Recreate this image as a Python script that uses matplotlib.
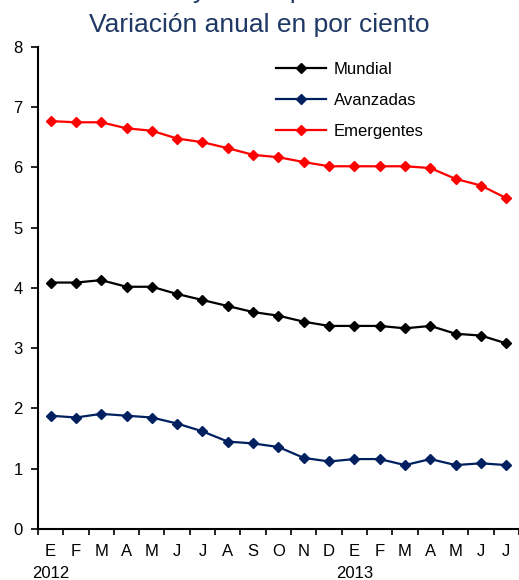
import numpy as np
import matplotlib.pyplot as plt

plt.rcParams['font.family'] = ['Liberation Sans', 'DejaVu Sans']

meses = ['E', 'F', 'M', 'A', 'M', 'J', 'J', 'A', 'S', 'O', 'N', 'D',
         'E', 'F', 'M', 'A', 'M', 'J', 'J']
anios = {0: '2012', 12: '2013'}

mundial = [4.09, 4.09, 4.13, 4.02, 4.02, 3.90, 3.80, 3.70, 3.60, 3.54,
           3.44, 3.37, 3.37, 3.37, 3.33, 3.37, 3.24, 3.21, 3.08]
avanzadas = [1.88, 1.85, 1.91, 1.88, 1.85, 1.75, 1.62, 1.45, 1.42, 1.36,
             1.18, 1.12, 1.16, 1.16, 1.06, 1.16, 1.06, 1.09, 1.06]
emergentes = [6.77, 6.75, 6.75, 6.65, 6.61, 6.48, 6.42, 6.32, 6.21, 6.17,
              6.09, 6.02, 6.02, 6.02, 6.02, 5.99, 5.81, 5.70, 5.49]

series = [('Mundial', mundial, '#000000'),
          ('Avanzadas', avanzadas, '#002060'),
          ('Emergentes', emergentes, '#FF0000')]

fig = plt.figure(figsize=(5.19, 5.80), dpi=100)
ax = fig.add_axes([0.073, 0.088, 0.927, 0.831])

x = np.arange(len(meses))
for nombre, vals, color in series:
    ax.plot(x, vals, color=color, lw=1.6, marker='D', markersize=5.5,
            label=nombre)

ax.set_xlim(-0.5, len(meses) - 0.5)
ax.set_ylim(0, 8)
ax.set_yticks(range(0, 9))
ax.set_xticks(np.arange(-0.5, len(meses)), minor=False)
ax.set_xticklabels([])
ax.set_xticks(x, minor=True)
ax.set_xticklabels(meses, minor=True, fontsize=12)
ax.tick_params(axis='x', which='minor', length=0, pad=11)
ax.tick_params(axis='x', which='major', direction='out', length=4, width=1.2)
ax.tick_params(axis='y', direction='out', length=5, width=1.2, labelsize=12, pad=6)

for i, a in anios.items():
    ax.text(i, -0.62, a, ha='center', va='top', fontsize=12,
            transform=ax.transData, clip_on=False)

for s in ['top', 'right']:
    ax.spines[s].set_visible(False)
for s in ['left', 'bottom']:
    ax.spines[s].set_linewidth(1.5)

ax.legend(loc='upper left', bbox_to_anchor=(0.463, 1.0), frameon=False,
          fontsize=12, handlelength=3.0, labelspacing=0.95, handletextpad=0.5)

fig.text(0.54, 1.004, 'Proyección para 2013', ha='center', va='baseline',
         fontsize=19, color='#1F3864')
fig.text(0.5, 0.957, 'Variación anual en por ciento', ha='center',
         va='center', fontsize=19, color='#1F3864')

fig.savefig('out.png', dpi=100)
